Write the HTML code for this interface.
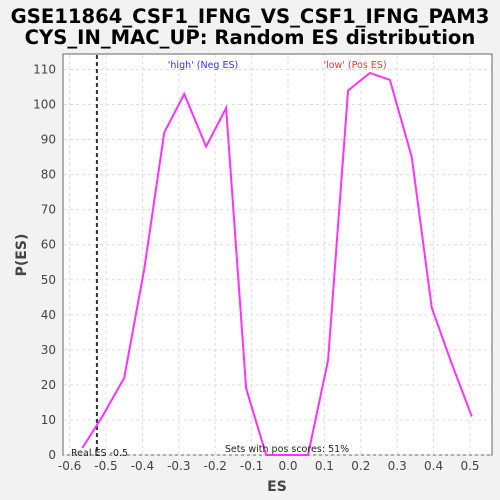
<!DOCTYPE html>
<html><head><meta charset="utf-8"><style>
body{margin:0;background:#f2f2f2;width:500px;height:500px;overflow:hidden;font-family:"DejaVu Sans","Liberation Sans",sans-serif}
svg{display:block}
</style></head><body>
<svg id="chart" width="500" height="500" xmlns="http://www.w3.org/2000/svg">
<text x="250" y="23" text-anchor="middle" font-family="DejaVu Sans, sans-serif" font-weight="bold" font-size="19.6" fill="#000">GSE11864_CSF1_IFNG_VS_CSF1_IFNG_PAM3</text>
<text x="250" y="44" text-anchor="middle" font-family="DejaVu Sans, sans-serif" font-weight="bold" font-size="19.6" fill="#000">CYS_IN_MAC_UP: Random ES distribution</text>
<rect x="63" y="54" width="429" height="401" fill="#fff" stroke="#666"/>
<g id="grid"></g><g id="ticks"></g>
<text x="277" y="491" text-anchor="middle" font-size="14" font-weight="bold" fill="#444">ES</text>
<text transform="translate(26,255) rotate(-90)" text-anchor="middle" font-size="14" font-weight="bold" fill="#444">P(ES)</text>
<text x="203" y="68" text-anchor="middle" font-size="9.5" fill="#3333ff">'high' (Neg ES)</text>
<text x="355" y="68" text-anchor="middle" font-size="9.5" fill="#ff3333">'low' (Pos ES)</text>
<g id="marks"></g>
<text x="287" y="452" text-anchor="middle" font-size="9.5" fill="#222">Sets with pos scores: 51%</text>
<text x="71" y="456" font-size="9.5" fill="#222">Real ES -0.5</text>
</svg>
<script>
const esValues=[-0.565,-0.51,-0.45,-0.395,-0.34,-0.285,-0.225,-0.17,-0.115,-0.06,0,0.055,0.11,0.165,0.225,0.28,0.34,0.395,0.45,0.505];
const probValues=[2,11,22,53,92,103,88,99,19,0,0,0,27,104,109,107,85,42,26,11];
const xTicks=[-0.6,-0.5,-0.4,-0.3,-0.2,-0.1,0,0.1,0.2,0.3,0.4,0.5];
const yTicks=[0,10,20,30,40,50,60,70,80,90,100,110];
const realES=-0.525;
const NS="http://www.w3.org/2000/svg";
const xs=v=>288+v*364;
const ys=v=>455-v*3.505;
function mk(t,a,p){const e=document.createElementNS(NS,t);for(const k in a)e.setAttribute(k,a[k]);p.appendChild(e);return e;}
const grid=document.getElementById('grid'),ticks=document.getElementById('ticks'),marks=document.getElementById('marks');
xTicks.forEach(v=>{
 const g=mk('line',{x1:xs(v),x2:xs(v),y1:55,y2:455,stroke:'#ddd','stroke-dasharray':'3,3'},grid);
 
 
 const t=mk('text',{x:xs(v),y:470,'text-anchor':'middle','font-size':'12',fill:'#444'},ticks);
 t.textContent=(v===0?'0.0':v.toFixed(1));
 
 
});
yTicks.forEach(v=>{
 const g=mk('line',{x1:64,x2:491,y1:ys(v),y2:ys(v),stroke:'#ddd','stroke-dasharray':'3,3'},grid);
 
 
 const t=mk('text',{x:56,y:ys(v)+4,'text-anchor':'end','font-size':'12',fill:'#444'},ticks);
 t.textContent=v;
 
 
});
const rl=mk('line',{x1:xs(realES),x2:xs(realES),y1:55,y2:455,stroke:'#333','stroke-width':2,'stroke-dasharray':'4,3'},marks);


const pl=mk('polyline',{points:esValues.map((v,i)=>xs(v)+','+ys(probValues[i])).join(' '),fill:'none',stroke:'#ff33ff','stroke-width':2},marks);


</script>
</body></html>
